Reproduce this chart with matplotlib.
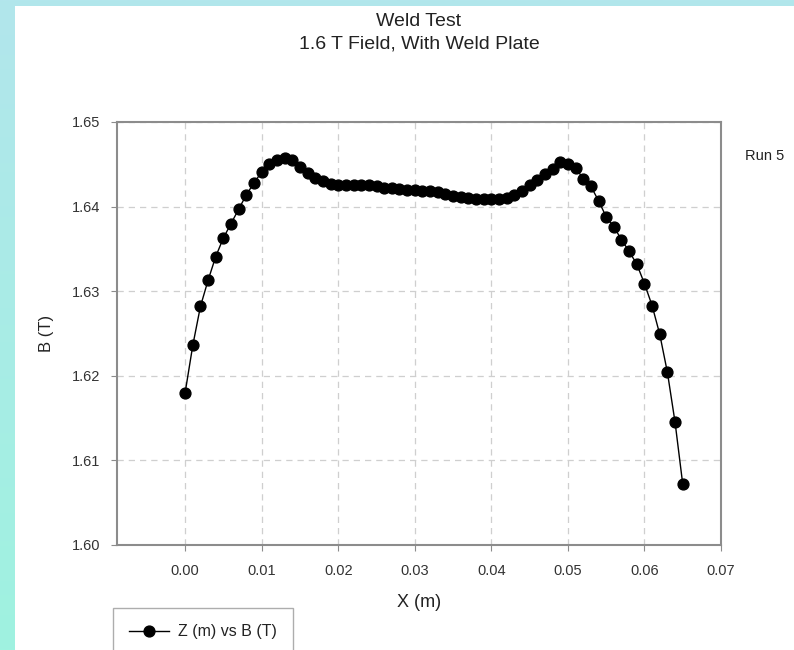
import numpy as np
import matplotlib
matplotlib.use("Agg")
import matplotlib.pyplot as plt
from matplotlib.patches import Rectangle

plt.rcParams['font.family'] = ['Liberation Sans', 'DejaVu Sans']

# Position along the plate (m), one reading every millimetre
z_m = [i / 1000 for i in range(66)]

# Measured field (T)
b_t = [1.6180, 1.6236, 1.6282, 1.6313, 1.6341, 1.6363, 1.6380, 1.6397, 1.6414, 1.6428,
       1.6441, 1.6450, 1.6455, 1.6458, 1.6455, 1.6447, 1.6440, 1.6434, 1.6430, 1.6427,
       1.6426, 1.6426, 1.6425, 1.6426, 1.6425, 1.6424, 1.6422, 1.6422, 1.6421, 1.6420,
       1.6420, 1.6419, 1.6418, 1.6417, 1.6415, 1.6413, 1.6411, 1.6410, 1.6409, 1.6409,
       1.6409, 1.6409, 1.6410, 1.6414, 1.6418, 1.6426, 1.6431, 1.6439, 1.6444, 1.6453,
       1.6450, 1.6446, 1.6433, 1.6424, 1.6407, 1.6388, 1.6376, 1.6361, 1.6347, 1.6332,
       1.6309, 1.6283, 1.6249, 1.6204, 1.6145, 1.6072]

x_ticks = [0.00, 0.01, 0.02, 0.03, 0.04, 0.05, 0.06, 0.07]
y_ticks = [1.60, 1.61, 1.62, 1.63, 1.64, 1.65]

fig = plt.figure(figsize=(7.94, 6.5), dpi=100)

# cyan gradient frame behind a white page
bg = fig.add_axes([0, 0, 1, 1], zorder=-10)
grad = np.linspace(0, 1, 256).reshape(-1, 1)
cmap = matplotlib.colors.LinearSegmentedColormap.from_list('frame', ['#b2e6ec', '#9ff2e0'])
bg.imshow(grad, aspect='auto', cmap=cmap, extent=[0, 1, 0, 1], origin='upper')
bg.add_patch(Rectangle((15 / 794, 0), 1, 1 - 6 / 650, facecolor='white', edgecolor='none'))
bg.set_xlim(0, 1)
bg.set_ylim(0, 1)
bg.axis('off')

ax = fig.add_axes([117 / 794, 1 - 545 / 650, (721 - 117) / 794, (545 - 122) / 650])
line, = ax.plot(z_m, b_t, color='black', lw=1.0, marker='o', markersize=7.8,
                label='Z (m) vs B (T)')

ax.set_xlim(-0.0089, 0.07)
ax.set_ylim(1.60, 1.65)
ax.set_xticks(x_ticks)
ax.set_yticks(y_ticks)
ax.set_xticklabels([f'{v:.2f}' for v in x_ticks])
ax.set_yticklabels([f'{v:.2f}' for v in y_ticks])
ax.grid(True, color='#cfcfcf', linestyle=(0, (5, 4)), lw=0.9)
ax.set_axisbelow(True)
for s in ax.spines.values():
    s.set_color('#8c8c8c')
    s.set_linewidth(1.5)
ax.tick_params(direction='out', length=4, color='#8c8c8c', labelsize=10.5,
               labelcolor='#333333')
ax.tick_params(axis='x', pad=9.5)
ax.tick_params(axis='y', pad=8)

ax.set_xlabel('X (m)', fontsize=13, color='#222222', labelpad=12)
ax.set_ylabel('B (T)', fontsize=12, color='#222222', labelpad=13)

fig.text(419 / 794, 1 - 22 / 650, 'Weld Test', ha='center', va='center', fontsize=14,
         color='#222222')
fig.text(419 / 794, 1 - 44 / 650, '1.6 T Field, With Weld Plate', ha='center', va='center',
         fontsize=14, color='#222222')
fig.text(745 / 794, 1 - 156 / 650, 'Run 5', ha='left', va='center', fontsize=10.5,
         color='#222222')

leg = fig.legend(handles=[line], loc='lower left', bbox_to_anchor=(113 / 794, -0.008),
                 fontsize=11.5, frameon=True, fancybox=False, borderpad=1.0,
                 handlelength=2.5, handletextpad=0.6, borderaxespad=0)
leg.get_frame().set_edgecolor('#999999')
leg.get_frame().set_linewidth(1.0)
for t in leg.get_texts():
    t.set_color('#222222')

fig.savefig('out.png', dpi=100)
